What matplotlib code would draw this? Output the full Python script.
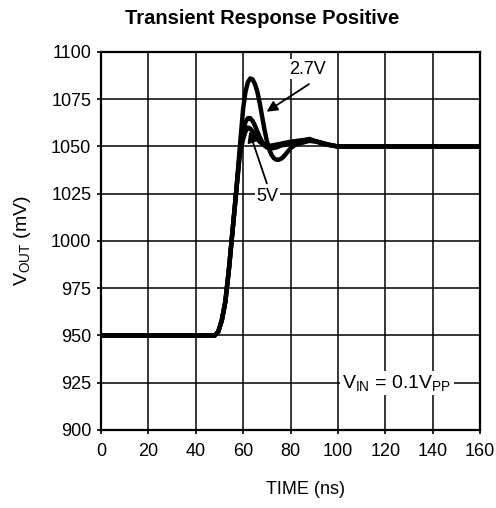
import matplotlib
matplotlib.use("Agg")
import matplotlib.pyplot as plt

plt.rcParams['font.family'] = ['Liberation Sans', 'DejaVu Sans']
plt.rcParams['mathtext.fontset'] = 'custom'
plt.rcParams['mathtext.rm'] = 'Liberation Sans'
plt.rcParams['mathtext.it'] = 'Liberation Sans'

# Data
t_27 = [0, 48, 49.5, 51, 52.5, 54, 55.5, 57, 58.5, 60, 61, 62, 63, 64, 65, 66, 67, 68, 69, 70,
        71, 72, 73, 74, 75, 76, 77, 78, 80, 82, 85, 88, 91, 95, 100, 160]
v_27 = [950, 950, 952, 958, 968, 985, 1005, 1025, 1048, 1070, 1079, 1084, 1086, 1085.5, 1083, 1079,
        1073, 1066, 1059, 1053, 1048.5, 1045.5, 1043.8, 1043, 1043, 1043.5, 1044.5, 1046, 1049, 1051,
        1052, 1053, 1052.5, 1051, 1050, 1050]

t_mid = [0, 48, 49.5, 51, 52.5, 54, 55.5, 57, 58.5, 60, 61, 62, 63, 64, 65, 66, 67, 68, 69, 70,
         72, 74, 76, 78, 80, 83, 86, 88, 90, 93, 96, 100, 160]
v_mid = [950, 950, 952, 958, 968, 985, 1005, 1025, 1045, 1058, 1063, 1065, 1065, 1063.5, 1061, 1058,
         1055, 1052.5, 1050.5, 1049.5, 1049, 1049.5, 1050.5, 1051, 1051.5, 1052, 1053, 1053.5, 1053,
         1052, 1051, 1050, 1050]

t_5 = [0, 48, 49.5, 51, 52.5, 54, 55.5, 57, 58.5, 60, 61, 62, 63, 64, 65, 66, 67, 68, 69, 70,
       72, 74, 76, 78, 80, 83, 86, 88, 90, 93, 96, 100, 160]
v_5 = [950, 950, 952, 958, 968, 985, 1005, 1025, 1045, 1054, 1058, 1060, 1059.5, 1058, 1056, 1054,
       1052.5, 1051.5, 1051, 1050.5, 1050.5, 1051, 1051.5, 1052, 1052.5, 1053, 1053.5, 1054, 1053,
       1052, 1051, 1050, 1050]

x_ticks = [0, 20, 40, 60, 80, 100, 120, 140, 160]
y_ticks = [900, 925, 950, 975, 1000, 1025, 1050, 1075, 1100]

fig = plt.figure(figsize=(4.96, 5.08), dpi=100)
ax = fig.add_axes([101/496, 1-430/508, (480-101)/496, (430-52)/508])

for t, v in [(t_5, v_5), (t_mid, v_mid), (t_27, v_27)]:
    ax.plot(t, v, color='black', lw=3.2, solid_joinstyle='round', solid_capstyle='butt', zorder=3)

ax.set_xlim(0, 160)
ax.set_ylim(900, 1100)
ax.set_xticks(x_ticks)
ax.set_yticks(y_ticks)
ax.set_xticklabels([str(x) for x in x_ticks])
ax.set_yticklabels([str(y) for y in y_ticks])
ax.grid(True, color='black', lw=1.1)
ax.set_axisbelow(True)
for s in ax.spines.values():
    s.set_linewidth(1.6)
ax.tick_params(direction='out', length=3, width=1.2, labelsize=13)
ax.tick_params(axis='x', pad=6)
ax.tick_params(axis='y', pad=4)

ax.set_ylabel(r'V$_{\mathrm{OUT}}$ (mV)', fontsize=14, labelpad=13)
fig.text(305/496, 1-490/508, 'TIME (ns)', fontsize=13, ha='center', va='center')
fig.text(262/496, 1-18/508, 'Transient Response Positive', fontsize=14.5,
         fontweight='bold', ha='center', va='center')

white = dict(facecolor='white', edgecolor='none', pad=1.0)
arrow = dict(arrowstyle='-|>', color='black', lw=1.3, mutation_scale=16, shrinkA=0, shrinkB=0)
ax.text(87.3, 1091, '2.7V', fontsize=13, ha='center', va='center', bbox=white, zorder=4)
ax.annotate('', xy=(69.9, 1068.4), xytext=(87.8, 1083), arrowprops=arrow, zorder=5)
ax.text(70.2, 1023.5, '5V', fontsize=13, ha='center', va='center', bbox=white, zorder=4)
ax.annotate('', xy=(62.6, 1058), xytext=(70, 1030.5), arrowprops=arrow, zorder=5)

ax.text(125, 925, r'V$_{\mathrm{IN}}$ = 0.1V$_{\mathrm{PP}}$', fontsize=14, ha='center', va='center',
        bbox=dict(facecolor='white', edgecolor='none', pad=1.5), zorder=4)

fig.savefig('out.png', dpi=100)
